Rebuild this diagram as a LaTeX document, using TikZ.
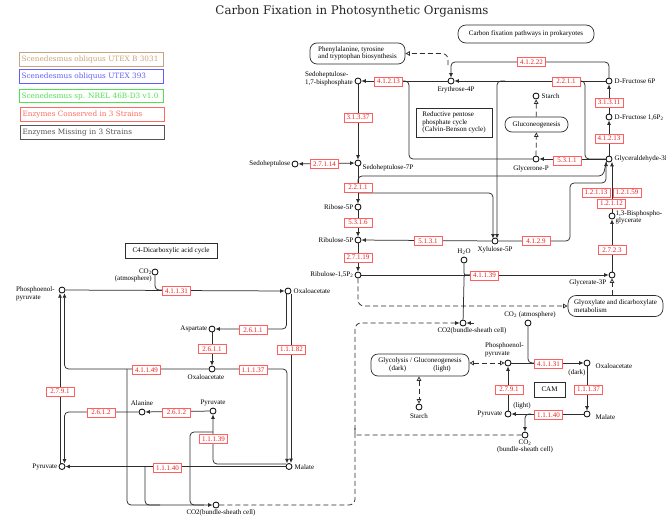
\documentclass[tikz,border=0pt]{standalone}
\usepackage{fontspec}
\setmainfont{Liberation Serif}
\newfontfamily\slabfont{DejaVu Serif}
\usetikzlibrary{positioning,arrows.meta,calc}

\definecolor{enzred}{RGB}{235,30,30}
\definecolor{enzline}{RGB}{255,95,95}
\definecolor{strtan}{RGB}{200,165,125}
\definecolor{strblue}{RGB}{95,95,255}
\definecolor{strgreen}{RGB}{80,225,80}
\definecolor{strred}{RGB}{255,105,95}
\definecolor{strgray}{RGB}{85,85,85}
\definecolor{mapline}{RGB}{45,45,45}

\newcommand{\strainname}[1]{\makebox[140pt][l]{#1}}

\tikzset{
  enz/.style={rectangle,draw=enzline,fill=white,text=enzred,line width=0.8pt,font=\fontsize{7}{7}\selectfont,inner xsep=1.5pt,inner ysep=0.5pt,minimum width=28pt,minimum height=9pt},
  cpd/.style={circle,draw=black,fill=white,line width=0.8pt,inner sep=0pt,minimum size=6pt},
  lbl/.style={font=\fontsize{7}{7.6}\selectfont,inner sep=0.5pt,align=left},
  mapbox/.style={rectangle,rounded corners=7pt,draw=mapline,fill=white,line width=0.7pt,font=\fontsize{7}{7.6}\selectfont,align=center,inner sep=2pt},
  namebox/.style={rectangle,draw=mapline,fill=white,line width=0.7pt,font=\fontsize{7}{7.6}\selectfont,align=left,inner sep=2pt},
  strain/.style={rectangle,draw=#1,line width=1.1pt,text=#1,font=\slabfont\fontsize{7.3}{8}\selectfont,anchor=west,minimum height=13.5pt,inner xsep=2pt,inner ysep=1pt},
  rxn/.style={draw=mapline,line width=0.75pt,rounded corners=4pt},
  arr/.style={rxn,-{Latex[length=4.5pt,width=4pt]}},
  darr/.style={rxn,{Latex[length=4.5pt,width=4pt]}-{Latex[length=4.5pt,width=4pt]}},
  dshline/.style={draw=mapline,line width=0.75pt,dash pattern=on 5pt off 3pt,rounded corners=6pt},
  darw/.style={dshline,-{Latex[length=4.5pt,width=4pt]}},
  oarr/.style={dshline,-{Triangle[open,length=4.5pt,width=4.5pt]}},
  doarr/.style={dshline,{Triangle[open,length=4.5pt,width=4.5pt]}-{Triangle[open,length=4.5pt,width=4.5pt]}}
}

\begin{document}
\begin{tikzpicture}[x=1pt,y=-1pt]
\useasboundingbox (0,0) rectangle (666,517);
\fill[white] (0,0) rectangle (666,517);

% title and legend
\node[font=\slabfont\fontsize{11.8}{12}\selectfont,text=black!85] (title) at (352,11) {Carbon Fixation in Photosynthetic Organisms};
\node[strain=strtan]   (sp1) at (19,59.5)  {\strainname{Scenedesmus obliquus UTEX B 3031}};
\node[strain=strblue]  (sp2) at (19,76.5)  {\strainname{Scenedesmus obliquus UTEX 393}};
\node[strain=strgreen] (sp3) at (19,96)    {\strainname{Scenedesmus sp. NREL 46B-D3 v1.0}};
\node[strain=strred]   (sp4) at (20,114.5) {\strainname{Enzymes Conserved in 3 Strains}};
\node[strain=strgray]  (sp5) at (20,132.5) {\strainname{Enzymes Missing in 3 Strains}};

% pathway boxes
\node[mapbox,align=left,minimum width=95pt,minimum height=21pt] (phe) at (357.5,53.5) {Phenylalanine, tyrosine\\and tryptophan biosynthesis};
\node[mapbox,minimum width=136pt,minimum height=18pt,rounded corners=8pt] (prok) at (526,34) {Carbon fixation pathways in prokaryotes};
\node[namebox,minimum width=76pt,minimum height=29pt] (calvin) at (454,122.5) {Reductive pentose\\phosphate cycle\\(Calvin-Benson cycle)};
\node[mapbox,minimum width=63pt,minimum height=15pt] (gluco) at (536.5,124.5) {Gluconeogenesis};
\node[mapbox,align=left,minimum width=95pt,minimum height=21pt,rounded corners=8pt] (glyox) at (615.5,306) {Glyoxylate and dicarboxylate\\metabolism};
\node[namebox,minimum width=92pt,minimum height=15pt] (cfour) at (171,250.5) {C4-Dicarboxylic acid cycle};
\node[mapbox,minimum width=98pt,minimum height=22pt] (glycol) at (420,365) {Glycolysis / Gluconeogenesis\\(dark)\hspace{27pt}(light)};
\node[namebox,minimum width=31pt,minimum height=15pt,align=center] (cam) at (549.5,389.5) {CAM};

% compounds
\node[cpd] (e4p)   at (451,81) {};
\node[cpd] (sbp)   at (358,81) {};
\node[cpd] (s7p)   at (358,163) {};
\node[cpd] (sedo)  at (295,164) {};
\node[cpd] (r5p)   at (358,207) {};
\node[cpd] (ru5p)  at (358,240) {};
\node[cpd] (rubp)  at (358,275) {};
\node[cpd] (xu5p)  at (495,241) {};
\node[cpd] (f6p)   at (609,81) {};
\node[cpd] (fbp)   at (609,117) {};
\node[cpd] (gap)   at (609,159) {};
\node[cpd] (dhap)  at (536,159) {};
\node[cpd] (stch)  at (536,96) {};
\node[cpd] (bpg)   at (612,216) {};
\node[cpd] (pga)   at (612,275) {};
\node[cpd] (water) at (464,260) {};
\node[cpd] (co2bs) at (463,323) {};
% C4 cycle
\node[cpd] (co2a)  at (155,272) {};
\node[cpd] (pep)   at (62,290) {};
\node[cpd] (oaa)   at (288,291) {};
\node[cpd] (asp)   at (212,329) {};
\node[cpd] (oaab)  at (212,369) {};
\node[cpd] (pyrb)  at (213,411) {};
\node[cpd] (ala)   at (142,412) {};
\node[cpd] (pyr)   at (62,466.5) {};
\node[cpd] (mal)   at (289,466.5) {};
\node[cpd] (co2c)  at (216,505) {};
% CAM
\node[cpd] (co2m)  at (528,323) {};
\node[cpd] (pepm)  at (508,363) {};
\node[cpd] (oaam)  at (587,363) {};
\node[cpd] (malm)  at (587,414) {};
\node[cpd] (pyrm)  at (508,414) {};
\node[cpd] (co2n)  at (525,435) {};
\node[cpd] (stchm) at (419,407) {};

% Calvin cycle connectors
\draw[arr] (e4p) -- (sbp);
\draw[rxn] (402,81) -| (409,120) |- (dhap);
\draw[arr] (sbp) -- (s7p);
\draw[darr] (sedo) -- (s7p);
\draw[arr] (s7p) -- (r5p);
\draw[rxn] (358,187) |- (603,176) -- (gap.south west);
\draw[arr] (358,193) -| (493,238.5);
\draw[arr] (r5p) -- (ru5p);
\draw[arr] (ru5p) -- (rubp);
\draw[arr] (xu5p) -- (ru5p);
\draw[arr] (f6p) -- (e4p);
\draw[arr] (f6p) |- (451,62) -- (e4p);
\draw[arr] (505,81) -| (497,238.5);
\draw[rxn] (582,81) -| (585,120) |- (gap);
\draw[arr] (fbp) -- (f6p);
\draw[arr] (gap) -- (fbp);
\draw[arr] (gap) -- (dhap);
\draw[oarr] (dhap) -- (gluco);
\draw[oarr] (gluco) -- (stch);
\draw[oarr] (448,65) |- (phe);
\draw[arr] (xu5p) -| (570,183) -| (606,161.5);
\draw[arr] (bpg) -- (612,161.8);
\draw[arr] (pga) -- (bpg);
\draw[arr] (rubp) -- (pga);
\draw[rxn] (water) -- (464,269) .. controls (464,275) .. (470,275);
\draw[rxn] (co2bs) -- (464,281) .. controls (464,275) .. (470,275);
\draw[oarr] (rubp) |- (glyox);
\draw[oarr] (glyox.north -| pga) -- (pga);
\draw[arr] (474,323) -- (co2bs);

% C4 connectors
\draw[arr] (pep) -- (oaa);
\draw[rxn] (co2a) |- (166,290);
\draw[arr] (286.5,293.8) |- (asp);
\draw[arr] (291,293.5) -- (291,463);
\draw[arr] (asp) -- (oaab);
\draw[arr] (oaab) -| (287,463.3);
\draw[arr] (oaab) -| (64.5,293.2);
\draw[arr] (127,369) |- (co2c);
\draw[arr] (60,463.5) -- (60,293.2);
\draw[arr] (pyrb) -- (ala);
\draw[arr] (ala) -| (64.5,463.5);
\draw[arr] (mal) -- (pyr);
\draw[arr] (286,464) -| (pyrb);
\draw[rxn] (213,432) -| (190,480) |- (204,505);
\draw[rxn] (145,466.5) |- (160,505);
\draw[darw] (co2c) -| (355,400) |- (co2bs);
\draw[dshline] (355,428) .. controls (355,435) .. (362,435) -- (co2n);

% CAM connectors
\draw[rxn] (co2m) |- (536,363);
\draw[arr] (pepm) -- (oaam);
\draw[doarr] (glycol.east |- pepm) -- (pepm);
\draw[doarr] (glycol.south -| stchm) -- (stchm);
\draw[arr] (oaam) -- (malm);
\draw[arr] (malm) -- (pyrm);
\draw[arr] (pyrm) -- (pepm);
\draw[arr] (531,414) -| (co2n);

% enzymes
\node[enz] (ez41213a) at (388.5,81.5) {4.1.2.13};
\node[enz] (ez41222)  at (531.5,62)   {4.1.2.22};
\node[enz] (ez2211a)  at (566,81.5)   {2.2.1.1};
\node[enz] (ez31311)  at (609,102.5)  {3.1.3.11};
\node[enz] (ez41213b) at (609,138.5)  {4.1.2.13};
\node[enz] (ez31337)  at (358,117.5)  {3.1.3.37};
\node[enz] (ez27114)  at (324.5,164)  {2.7.1.14};
\node[enz] (ez2211b)  at (358,187.5)  {2.2.1.1};
\node[enz] (ez5316)   at (358,222.5)  {5.3.1.6};
\node[enz] (ez27119)  at (358,257.5)  {2.7.1.19};
\node[enz] (ez5131)   at (428,241)    {5.1.3.1};
\node[enz] (ez4129)   at (536,241)    {4.1.2.9};
\node[enz] (ez41139)  at (484.5,275.5){4.1.1.39};
\node[enz] (ez2723)   at (612,250)    {2.7.2.3};
\node[enz] (ez12113)  at (596,192.5)  {1.2.1.13};
\node[enz] (ez12159)  at (627,192.5)  {1.2.1.59};
\node[enz] (ez12112)  at (611.5,203.5){1.2.1.12};
\node[enz] (ez5311)   at (567,160.5)  {5.3.1.1};
\node[enz] (ez41131)  at (176.5,291)  {4.1.1.31};
\node[enz] (ez2611a)  at (253,330)    {2.6.1.1};
\node[enz] (ez2611b)  at (212,349)    {2.6.1.1};
\node[enz] (ez41149)  at (146.5,370)  {4.1.1.49};
\node[enz] (ez11137)  at (253,370)    {1.1.1.37};
\node[enz] (ez11182)  at (291.5,349.5){1.1.1.82};
\node[enz] (ez2791)   at (60,391.5)   {2.7.9.1};
\node[enz] (ez2612a)  at (101,412.5)  {2.6.1.2};
\node[enz] (ez2612b)  at (176.5,412.5){2.6.1.2};
\node[enz] (ez11139)  at (213.5,439)  {1.1.1.39};
\node[enz] (ez11140)  at (167.5,468)  {1.1.1.40};
\node[enz] (ez41131m) at (548.5,364)  {4.1.1.31};
\node[enz] (ez11137m) at (588.5,389.5){1.1.1.37};
\node[enz] (ez2791m)  at (509,389.5)  {2.7.9.1};
\node[enz] (ez11140m) at (548.5,415)  {1.1.1.40};

% compound labels
\node[lbl,anchor=east] (lsbp) at (353.5,79) {Sedoheptulose-\\1,7-bisphosphate};
\node[lbl] (le4p) at (456,89.5) {Erythrose-4P};
\node[lbl,anchor=west] (ls7p) at (362,168) {Sedoheptulose-7P};
\node[lbl,anchor=east] (lsedo) at (291,164) {Sedoheptulose};
\node[lbl,anchor=east] (lr5p) at (354,207) {Ribose-5P};
\node[lbl,anchor=east] (lru5p) at (354,240) {Ribulose-5P};
\node[lbl,anchor=east] (lrubp) at (354,275) {Ribulose-1,5P\textsubscript{2}};
\node[lbl] (lxu5p) at (495,249.5) {Xylulose-5P};
\node[lbl,anchor=west] (lf6p) at (614,81) {D-Fructose 6P};
\node[lbl,anchor=west] (lfbp) at (614,118) {D-Fructose 1,6P\textsubscript{2}};
\node[lbl,anchor=west] (lgap) at (614,159) {Glyceraldehyde-3P};
\node[lbl] (ldhap) at (531,169) {Glycerone-P};
\node[lbl,anchor=west] (lstch) at (541,96) {Starch};
\node[lbl,anchor=west] (lbpg) at (615,217.5) {1,3-Bisphospho-\\glycerate};
\node[lbl,anchor=east] (lpga) at (607,283) {Glycerate-3P};
\node[lbl] (lwater) at (464,252) {H\textsubscript{2}O};
\node[lbl] (lco2bs) at (472,331) {CO2(bundle-sheath cell)};
\node[lbl] (lco2m) at (530,315) {CO\textsubscript{2} (atmosphere)};
\node[lbl,anchor=east,align=right] (lco2a) at (152.5,275.5) {CO\textsubscript{2}\\(atmosphere)};
\node[lbl,anchor=west] (lpep) at (15.5,294) {Phosphoenol-\\pyruvate};
\node[lbl,anchor=west] (loaa) at (293,291.5) {Oxaloacetate};
\node[lbl,anchor=east] (lasp) at (208,329) {Aspartate};
\node[lbl] (loaab) at (206,377) {Oxaloacetate};
\node[lbl] (lala) at (142,403.5) {Alanine};
\node[lbl] (lpyrb) at (213,403) {Pyruvate};
\node[lbl,anchor=east] (lpyr) at (58,466.5) {Pyruvate};
\node[lbl,anchor=west] (lmal) at (294,467) {Malate};
\node[lbl] (lco2c) at (221,513) {CO2(bundle-sheath cell)};
\node[lbl,anchor=west] (lpepm) at (484.5,350) {Phosphoenol-\\pyruvate};
\node[lbl,anchor=west] (loaam) at (595,366) {Oxaloacetate};
\node[lbl] (ldark) at (577,373) {(dark)};
\node[lbl,anchor=west] (lmalm) at (595,417) {Malate};
\node[lbl,anchor=east] (lpyrm) at (503,414) {Pyruvate};
\node[lbl] (llight) at (522,406) {(light)};
\node[lbl,align=center] (lco2n) at (525,446.5) {CO\textsubscript{2}\\(bundle-sheath cell)};
\node[lbl] (lstchm) at (419,416) {Starch};
\end{tikzpicture}
\end{document}
